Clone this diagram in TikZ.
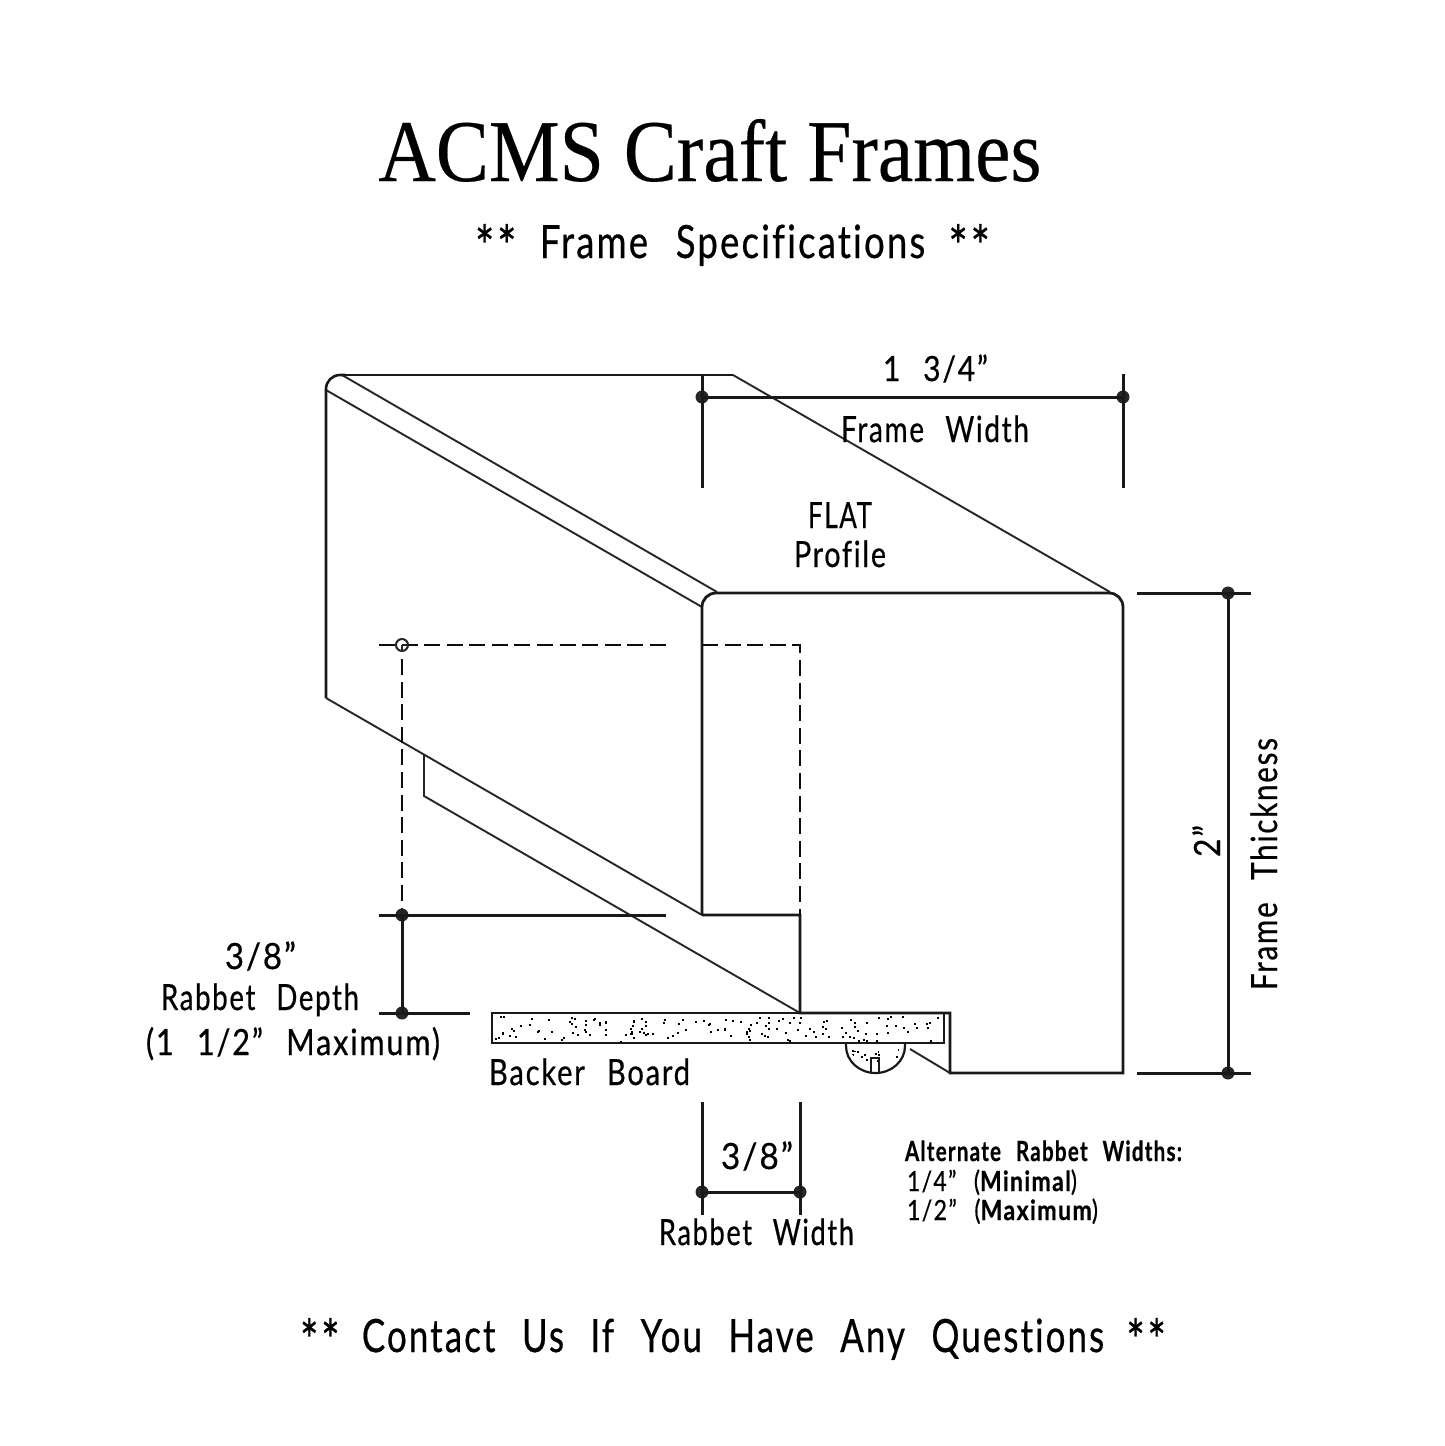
\documentclass[tikz,border=0pt]{standalone}
\usepackage{fontspec}
\usepackage{graphicx}
\setmainfont{Liberation Serif}
\newfontfamily\cadfont[LetterSpace=6,WordSpace=2.4,FakeBold=0.6,Ligatures=NoCommon]{Lato}
\newlength{\pxu}\setlength{\pxu}{0.5pt}
% width in px, cap height in px, text: stretched to the exact width
\newcommand{\fitw}[3]{\resizebox*{#1\pxu}{\totalheight}{\cadfont\fontsize{\fpeval{#2*0.5/0.72}pt}{\fpeval{#2*0.6}pt}\selectfont #3}}
\newcommand{\stars}{\raisebox{-0.2em}{\scalebox{1.25}{**}}}
\newcommand{\heavy}[1]{{\bfseries #1}}
\tikzset{
  outline/.style={line width=1.3pt,black!90,line join=miter},
  thin edge/.style={line width=0.95pt,black!85},
  dimline/.style={line width=1.5pt,black!90},
  dash edge/.style={line width=1.4pt,black!95,dash pattern=on 8pt off 3.3pt},
  dimdot/.style={circle,fill=black!85,inner sep=0pt,minimum size=6.5pt},
  lbl/.style={inner sep=0pt,outer sep=0pt,anchor=base west,black}
}
\begin{document}
\begin{tikzpicture}[x=0.5pt,y=-0.5pt]
\useasboundingbox (0,0) rectangle (1445,1446);
\fill[white] (0,0) rectangle (1445,1446);
% title
\node[inner sep=0pt,anchor=base west] (title) at (378,181) {\resizebox*{663\pxu}{\totalheight}{\addfontfeatures{FakeBold=0.3}\fontsize{44pt}{50pt}\selectfont ACMS Craft Frames}};
\node[lbl] (sub) at (475,258) {\fitw{515}{33}{\stars\hspace{-0.12em} Frame Specifications \hspace{-0.12em}\stars}};
\node[lbl] (foot) at (300,1352) {\fitw{866}{33}{\stars\hspace{-0.12em} Contact Us If You Have Any Questions \hspace{-0.12em}\stars}};
% side of the moulding
\draw[thin edge] (702,607) -- (326,390);
\draw[thin edge] (342,375) -- (717,592);
\draw[thin edge] (733,375) -- (1110,592);
\draw[outline] (340,375) -- (733,375);
\draw[outline] (326,698) [rounded corners=7pt] -- (326,375) -- (345,375);
\draw[thin edge] (326,698) -- (702,915);
\draw[thin edge] (424,755) -- (424,796) -- (800,1013);
% front profile
\draw[outline,line width=1.4pt] (702,915) [rounded corners=7pt] -- (702,593) -- (1123,593) -- (1123,700) [sharp corners] -- (1123,1073) -- (950,1073) -- (950,1013) -- (800,1013) -- (800,915) -- (702,915);
\draw[thin edge] (910,1049) -- (950,1073);
% hidden lines
\draw[dash edge] (379,645) -- (418,645);
\draw[dash edge] (424,645) -- (667,645);
\draw[dash edge] (702,645) -- (800,645) -- (800,915);
\draw[dash edge] (402,659) -- (402,915);
\draw[line width=1pt,black!85,fill=white] (402,645) circle (6);
\draw[line width=1pt,black!85] (402,645) -- (402,651) (402,645) -- (408,645);
% backer board
\draw[outline,line width=1.4pt] (492,1013) rectangle (944,1043);
\draw[line width=1.1pt,black!90] (846,1043) -- (846,1046) arc[start angle=180,end angle=0,x radius=29.5,y radius=27] -- (905,1043);
\draw[line width=1.1pt,black!90] (871,1072) -- (871,1058) -- (879,1058) -- (879,1072);
\pgfmathsetseed{11}
\foreach \i in {1,...,150}{
  \pgfmathsetmacro{\dotx}{495+446*rnd}
  \pgfmathsetmacro{\doty}{1016+25*rnd}
  \fill[black] (\dotx,\doty) rectangle +(2,2);
}
\foreach \i in {1,...,14}{
  \pgfmathsetmacro{\dotx}{852+46*rnd}
  \pgfmathsetmacro{\doty}{1046+18*rnd}
  \fill[black] (\dotx,\doty) rectangle +(1.8,1.8);
}
% frame width dimension
\node[dimdot] (wa) at (702,397) {};
\node[dimdot] (wb) at (1123,397) {};
\coordinate (wat) at (702,374); \coordinate (wab) at (702,488);
\coordinate (wbt) at (1123,374); \coordinate (wbb) at (1123,488);
\draw[dimline] (wa.center) -- (wb.center);
\draw[dimline] (wat) -- (wab);
\draw[dimline] (wbt) -- (wbb);
\node[lbl] (wval) at (883,381) {\fitw{105}{25}{1 3/4”}};
\node[lbl] (wname) at (841,442) {\fitw{188}{26}{Frame Width}};
\node[lbl] (flat) at (808,528) {\fitw{64}{26}{FLAT}};
\node[lbl] (prof) at (794,567) {\fitw{92}{26}{Profile}};
% frame thickness dimension
\node[dimdot] (ta) at (1228,593) {};
\node[dimdot] (tb) at (1228,1073) {};
\coordinate (tal) at (1137,593); \coordinate (tar) at (1251,593);
\coordinate (tbl) at (1137,1073); \coordinate (tbr) at (1251,1073);
\draw[dimline] (ta.center) -- (tb.center);
\draw[dimline] (tal) -- (tar);
\draw[dimline] (tbl) -- (tbr);
\node[lbl,rotate=90] (tval) at (1220,857) {\fitw{32}{26}{2”}};
\node[lbl,rotate=90] (tname) at (1277,990) {\fitw{252}{26}{Frame Thickness}};
% rabbet depth dimension
\node[dimdot] (da) at (402,915) {};
\node[dimdot] (db) at (402,1013) {};
\coordinate (dal) at (379,915); \coordinate (dar) at (666,915);
\coordinate (dbl) at (379,1013); \coordinate (dbr) at (470,1013);
\draw[dimline] (da.center) -- (db.center);
\draw[dimline] (dal) -- (dar);
\draw[dimline] (dbl) -- (dbr);
\node[lbl] (dval) at (225,969) {\fitw{71}{26}{3/8”}};
\node[lbl] (dname) at (161,1010) {\fitw{198}{26}{Rabbet Depth}};
\node[lbl] (dmax) at (146,1055) {\fitw{294}{26}{(1 1/2” Maximum)}};
\node[lbl] (back) at (489,1085) {\fitw{201}{26}{Backer Board}};
% rabbet width dimension
\node[dimdot] (ra) at (702,1192) {};
\node[dimdot] (rb) at (800,1192) {};
\coordinate (rat) at (702,1102); \coordinate (rab) at (702,1215);
\coordinate (rbt) at (800,1102); \coordinate (rbb) at (800,1215);
\draw[dimline] (ra.center) -- (rb.center);
\draw[dimline] (rat) -- (rab);
\draw[dimline] (rbt) -- (rbb);
\node[lbl] (rval) at (721,1169) {\fitw{72}{26}{3/8”}};
\node[lbl] (rname) at (659,1245) {\fitw{195}{26}{Rabbet Width}};
% alternates
\node[lbl] (alt) at (905,1161) {\fitw{277}{20}{\heavy{Alternate Rabbet Widths:}}};
\node[lbl] (alta) at (907,1191) {\fitw{170}{20}{1/4” (\heavy{Minimal})}};
\node[lbl] (altb) at (907,1220) {\fitw{191}{20}{1/2” (\heavy{Maximum})}};
\end{tikzpicture}
\end{document}
